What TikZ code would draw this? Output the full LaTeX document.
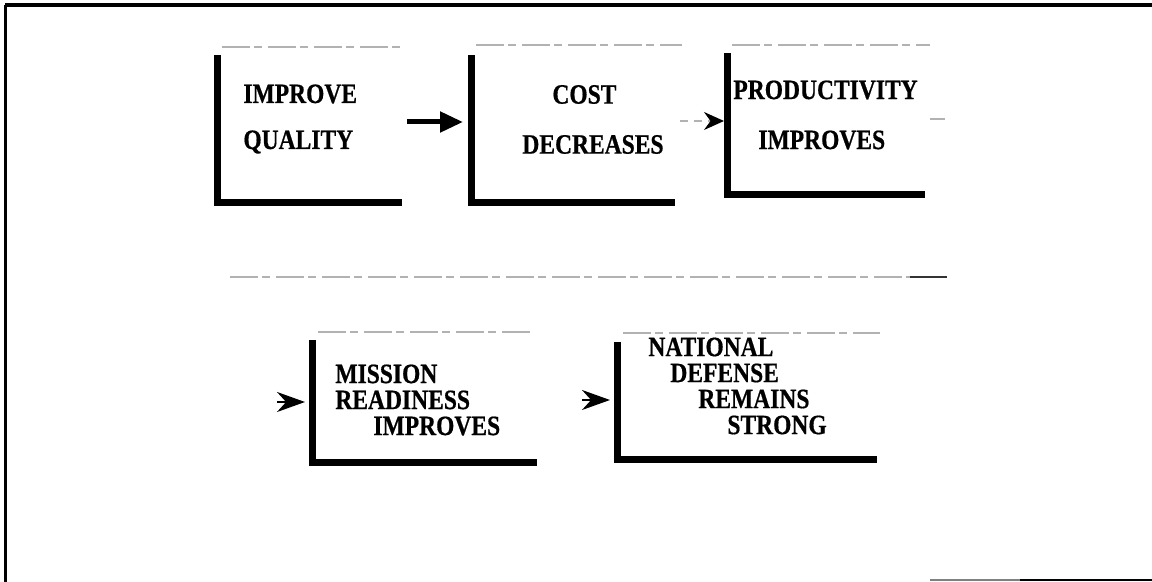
\documentclass[tikz,border=0pt]{standalone}
\usepackage{fontspec}
\setmainfont{Liberation Serif}
\newfontfamily\boxfont{Liberation Serif}[FakeStretch=0.84,FakeBold=0.6]
\usetikzlibrary{arrows.meta}

\begin{document}
\begin{tikzpicture}[x=0.5pt,y=-0.5pt,
    box/.style={inner sep=0pt,outer sep=0pt,anchor=south west},
    bar/.style={line width=3.5pt},
    faint/.style={gray!60,line width=0.6pt,dash pattern=on 14pt off 2pt on 4pt off 3pt},
    uptext/.style={font=\boxfont\fontsize{14}{24}\selectfont\bfseries,inner sep=0pt,anchor=west,align=left},
    lowtext/.style={font=\boxfont\fontsize{14}{13}\selectfont\bfseries,inner sep=0pt,anchor=west,align=left},
    headonly/.style={line width=1pt,shorten >=3.5pt,-{Stealth[length=14pt,width=10pt]}}]
           \useasboundingbox (0,0) rectangle (1152,582);
           % frame
           \draw[line width=2pt] (1152,5) -- (5,5);
           \draw[line width=1.5pt] (5,5) -- (5,582);
           \draw[gray,line width=1pt] (930,580) -- (1020,580);
           \draw[line width=1.2pt] (1020,580) -- (1152,580);
           % boxes
           \node[box,minimum width=92.5pt,minimum height=74pt] (b1) at (217,203) {};
           \node[box,minimum width=102pt,minimum height=74pt] (b2) at (471,203) {};
           \node[box,minimum width=99pt,minimum height=71pt] (b3) at (727,195) {};
           \node[box,minimum width=112.5pt,minimum height=61.5pt] (b4) at (312,463) {};
           \node[box,minimum width=130pt,minimum height=59pt] (b5) at (617,460) {};
           \foreach \b in {b1,b2,b3,b4,b5}
               \draw[bar] (\b.north west) -- (\b.south west) -- (\b.south east);
           \draw[faint] (222,47) -- (405,47);
           \draw[faint] (476,45) -- (682,45);
           \draw[faint] (732,45) -- (930,45);
           \draw[faint] (318,332) -- (533,332);
           \draw[faint] (623,333) -- (880,333);
           \draw[faint] (230,277) -- (910,277);
           \draw[gray!40!black,line width=0.8pt] (910,277) -- (947,277);
           \draw[gray!60,line width=0.6pt] (930,119) -- (945,119);
           % texts
           \node[uptext,font=\boxfont\fontsize{14}{23}\selectfont\bfseries] (improve) at (243,119) {IMPROVE\\QUALITY};
           \node[uptext,font=\boxfont\fontsize{14}{25}\selectfont\bfseries] (cost) at (522,119.5) {\hspace*{15pt}COST\\DECREASES};
           \node[uptext,font=\boxfont\fontsize{14}{25}\selectfont\bfseries] (prod) at (733,115) {PRODUCTIVITY\\\hspace*{12.5pt}IMPROVES};
           \node[lowtext] (mission) at (335,400) {MISSION\\READINESS\\\hspace*{19pt}IMPROVES};
           \node[lowtext] (defense) at (648,386) {NATIONAL\\\hspace*{11pt}DEFENSE\\\hspace*{25pt}REMAINS\\\hspace*{39.5pt}STRONG};
           % arrows
           \coordinate (a1) at (407,122);
           \coordinate (a2) at (680,121);
           \coordinate (a4) at (277,402);
           \coordinate (a5) at (582,400);
           \draw[line width=2.5pt,shorten >=4pt,-{Triangle[length=11.5pt,width=10pt]}] (a1) -- (a1 -| b2.west);
           \draw[gray!60,line width=0.8pt,dash pattern=on 4pt off 3pt,shorten >=1.5pt,-{Stealth[color=black,length=10pt,width=9pt]}] (a2) -- (a2 -| b3.west);
           \draw[headonly] (a4) -- (a4 -| b4.west);
           \draw[headonly] (a5) -- (a5 -| b5.west);
\end{tikzpicture}
\end{document}
